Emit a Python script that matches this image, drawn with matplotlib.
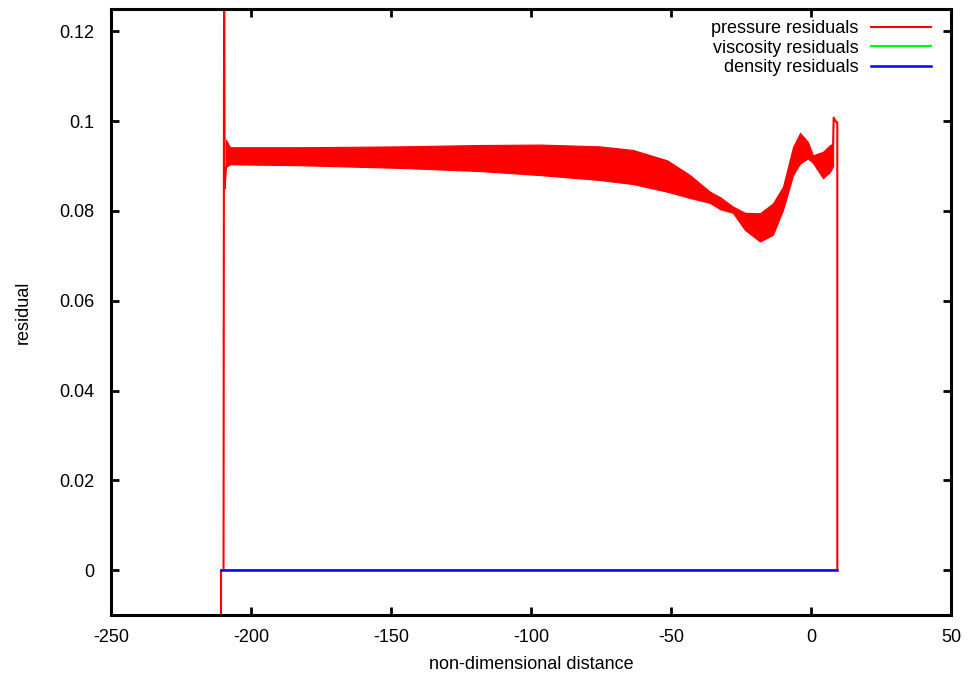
import numpy as np
import matplotlib
matplotlib.use("Agg")
import matplotlib.pyplot as plt


# ================= data =================

# pressure residual: left jump / spike before the oscillating band
P_LEFT_X = [-210.7, -210.7, -209.8, -209.6, -209.4]
P_LEFT_Y = [-0.02, 0.0, 0.0, 0.14, 0.0851]

# oscillating band of the pressure residual: upper / lower envelope
BAND_X = [-208.9, -207.5, -182.5, -146.8, -118.2, -96.8, -75.4, -63.6,
          -51.4, -43.2, -36.1, -32.5, -27.9, -23.6, -18.2, -13.6, -10.0,
          -6.4, -3.9, -1.1, 0.7, 4.3, 6.8, 7.9]
BAND_TOP = [0.0959, 0.0942, 0.0942, 0.0944, 0.0947, 0.0948, 0.0944, 0.0936,
            0.0913, 0.0880, 0.0843, 0.0831, 0.0810, 0.0796, 0.0795, 0.0817,
            0.0854, 0.0943, 0.0974, 0.0954, 0.0924, 0.0932, 0.0947, 0.0950]
BAND_BOT = [0.0898, 0.0904, 0.0902, 0.0896, 0.0889, 0.0880, 0.0869, 0.0860,
            0.0843, 0.0829, 0.0818, 0.0804, 0.0796, 0.0758, 0.0732, 0.0747,
            0.0802, 0.0880, 0.0906, 0.0917, 0.0907, 0.0873, 0.0887, 0.0900]

# pressure residual: final spike and drop to zero
P_RIGHT_X = [7.9, 8.1, 9.0, 9.4, 9.4]
P_RIGHT_Y = [0.0947, 0.1008, 0.0998, 0.0998, 0.0]

# viscosity / density residuals (flat at zero)
ZERO_X = [-210.7, 9.4]
ZERO_Y = [0.0, 0.0]

X_TICKS = [-250, -200, -150, -100, -50, 0, 50]
X_TICK_LABELS = ["-250", "-200", "-150", "-100", "-50", "0", "50"]
Y_TICKS = [0, 0.02, 0.04, 0.06, 0.08, 0.1, 0.12]
Y_TICK_LABELS = ["0", "0.02", "0.04", "0.06", "0.08", "0.1", "0.12"]

RED = "#ff0000"
GREEN = "#00ff00"
BLUE = "#0000ff"


# ================= plot =================

plt.rcParams["font.family"] = ["Liberation Sans", "DejaVu Sans"]
plt.rcParams["font.size"] = 13

fig = plt.figure(figsize=(9.7, 6.77), dpi=100)
ax = fig.add_axes([0.1144, 0.0916, 0.866, 0.8951])

lw = 1.5
ax.plot(P_LEFT_X, P_LEFT_Y, color=RED, lw=lw, label="pressure residuals")
ax.fill_between(BAND_X, BAND_BOT, BAND_TOP, color=RED, lw=0.8, edgecolor=RED)
ax.plot([BAND_X[0], P_LEFT_X[-1]], [BAND_BOT[0], P_LEFT_Y[-1]], color=RED, lw=lw)
ax.plot(P_RIGHT_X, P_RIGHT_Y, color=RED, lw=lw)
ax.plot(ZERO_X, ZERO_Y, color=GREEN, lw=lw, label="viscosity residuals")
ax.plot(ZERO_X, ZERO_Y, color=BLUE, lw=lw + 0.3, label="density residuals")

ax.set_xlim(-250, 50)
ax.set_ylim(-0.01, 0.125)
ax.set_xticks(X_TICKS)
ax.set_xticklabels(X_TICK_LABELS)
ax.set_yticks(Y_TICKS)
ax.set_yticklabels(Y_TICK_LABELS)

ax.tick_params(axis="x", direction="in", length=6, width=2, top=True,
               pad=10, labelsize=13)
ax.tick_params(axis="y", direction="in", length=6, width=2, right=True,
               pad=12, labelsize=13)
for sp in ax.spines.values():
    sp.set_linewidth(2.2)

ax.set_xlabel("non-dimensional distance", fontsize=13, labelpad=7)
ax.set_ylabel("residual", fontsize=13, labelpad=20)

ax.legend(loc="upper right", bbox_to_anchor=(0.976, 0.982), frameon=False,
          markerfirst=False, handlelength=3.3, handletextpad=0.7,
          labelspacing=0.15, fontsize=13, borderaxespad=0, borderpad=0)

plt.savefig("out.png", dpi=100)
plt.close()
